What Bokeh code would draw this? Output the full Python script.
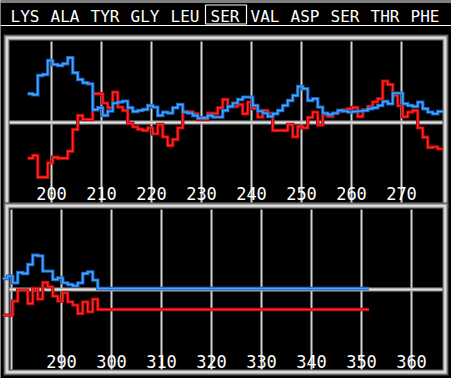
from bokeh.plotting import figure
from bokeh.models import Range1d
from bokeh.core.properties import value
from bokeh.embed import file_html
from bokeh.resources import INLINE

# ---------------- data ----------------
header_labels = ["LYS", "ALA", "TYR", "GLY", "LEU", "SER", "VAL", "ASP", "SER", "THR", "PHE"]
header_highlight = 5

top_start = 195
top_end_edge = 278.3
blue_top = [1.44, 1.39, 2.35, 2.40, 3.10, 2.90, 2.85, 2.94, 3.24, 2.49,
            2.15, 1.99, 1.93, 0.64, 0.74, 0.35, 0.57, 0.97, 1.02, 1.07,
            0.74, 0.55, 0.60, 0.65, 0.85, 0.77, 0.35, 0.52, 0.47, 0.74,
            0.90, 0.52, 0.47, 0.35, 0.22, 0.24, 0.35, 0.27, 0.27, 0.60,
            0.80, 0.97, 1.15, 1.27, 1.27, 0.85, 0.57, 0.47, 0.30, 0.44,
            0.60, 0.85, 1.10, 1.35, 1.80, 1.69, 1.10, 1.19, 0.77, 0.47,
            0.40, 0.47, 0.60, 0.57, 0.52, 0.55, 0.57, 0.60, 0.69, 0.74,
            0.85, 1.05, 0.94, 1.47, 1.47, 0.94, 0.85, 0.80, 1.02, 0.69,
            0.52, 0.44, 0.55]
red_top = [-1.79, -1.65, -2.74, -2.74, -2.02, -1.74, -1.79, -1.79, -1.44, -0.35,
           0.35, 0.15, 0.15, 1.44, 1.44, 0.97, 0.74, 1.52, 0.77, 0.60,
           -0.05, -0.22, -0.34, -0.40, -0.27, -0.57, -0.10, -0.72, -1.15, -0.85,
           -0.27, 0.55, 0.54, 0.44, 0.15, 0.15, 0.47, 0.45, 0.74, 1.15,
           0.80, 0.80, 0.90, 0.44, 1.02, 0.70, 0.27, 0.60, 0.47, -0.40,
           -0.40, -0.40, -0.10, -0.72, -0.20, -0.27, 0.25, 0.52, -0.13, 0.38,
           0.30, 0.45, 0.55, 0.64, 0.69, 0.75, 0.30, 0.64, 0.80, 1.03,
           1.19, 2.07, 1.90, 1.35, 0.83, 0.29, 0.52, 0.60, -0.27, -0.74,
           -1.25, -1.22, -1.32]

bottom_start = 278
bottom_end_edge = 351.5
blue_bottom = [0.55, 0.67, 0.33, 0.85, 0.80, 1.25, 1.72, 1.68, 0.92, 0.92,
               0.50, 0.58, 0.33, 0.25, 0.18, 0.33, 0.80, 0.88, 0.47, 0.05]
red_bottom = [-1.28, -1.28, -0.58, -0.03, -0.03, -0.70, 0.05, -0.48, 0.35, 0.13,
              -0.33, -0.58, -0.17, -0.62, -0.78, -1.20, -0.62, -1.12, -0.48, -1.00]

grid_top = [200, 210, 220, 230, 240, 250, 260, 270]
labels_top = [200, 210, 220, 230, 240, 250, 260, 270]
grid_bottom = [280, 290, 300, 310, 320, 330, 340, 350, 360]
labels_bottom = [290, 300, 310, 320, 330, 340, 350, 360]

# ---------------- geometry (pixels) ----------------
W, H = 451, 378
PX_RES = 5.0      # pixels per residue
PX_UNIT = 20.0    # pixels per hydropathy unit
STEP_SHIFT = 0.25

p1_outer = (3, 34, 448, 208)
p1_inner = (9, 40, 442, 202)
p1_zero = 122
p1_ref = (200, 51)
p1_label_y = 193

p2_outer = (3, 202, 448, 375)
p2_inner = (9, 208, 442, 369)
p2_zero = 289
p2_ref = (290, 61)
p2_label_y = 360.5

def res_range(ref):
    r0, x0 = ref
    return Range1d(r0 - x0 / PX_RES, r0 + (W - x0) / PX_RES)

def hyd_range(zero):
    return Range1d((zero - H) / PX_UNIT, zero / PX_UNIT)

p = figure(width=W, height=H, output_backend="svg", toolbar_location=None,
           x_range=Range1d(0, W), y_range=Range1d(H, 0),
           x_axis_location=None, y_axis_location=None,
           min_border=0, margin=(0, 0, 0, 0))
p.extra_x_ranges = {"res1": res_range(p1_ref), "res2": res_range(p2_ref)}
p.extra_y_ranges = {"hyd1": hyd_range(p1_zero), "hyd2": hyd_range(p2_zero)}
p.grid.visible = False
p.outline_line_color = None
p.background_fill_color = "black"
p.border_fill_color = "black"

MONO = value("DejaVu Sans Mono")

# ---------------- header ----------------
p.segment(x0=[0, 0], x1=[W, W], y0=[1.5, 25], y1=[1.5, 25], line_color="white", line_width=1)
hx = [24.5 + 40 * i for i in range(len(header_labels))]
p.text(x=hx, y=[15.5] * len(hx), text=header_labels, text_font=MONO, text_font_size="16px",
       text_color="white", text_align="center", text_baseline="middle")
bx = hx[header_highlight]
p.quad(left=[bx - 19.5], right=[bx + 21.5], top=[4.5], bottom=[23.5],
       fill_color=None, line_color="white", line_width=1.2)

# ---------------- panel frames ----------------
bevel = ["#4a4a4a", "#8c8c8c", "#c8c8c8", "#f2f2f2", "#b4b4b4", "#6e6e6e"]
for outer in (p1_outer, p2_outer):
    l, t, r, b = outer
    for i, c in enumerate(bevel):
        p.quad(left=[l + i], right=[r - i], top=[t + i], bottom=[b - i],
               fill_color=c, line_color=None)
    p.quad(left=[l + 6], right=[r - 6], top=[t + 6], bottom=[b - 6],
           fill_color="black", line_color=None)

# ---------------- grid, zero lines, labels ----------------
def panel_decor(ticks, inner, xr, yr):
    l, t, r, b = inner
    n = len(ticks)
    p.segment(x0=ticks, x1=ticks, y0=[t + 1] * n, y1=[b] * n, x_range_name=xr,
              line_color="#d4d4d4", line_width=2)
    p.segment(x0=[l], x1=[r], y0=[0], y1=[0], y_range_name=yr,
              line_color="#9c9c9c", line_width=4)
    p.segment(x0=[l], x1=[r], y0=[0], y1=[0], y_range_name=yr,
              line_color="#e6e6e6", line_width=1.5)

def panel_labels(ticks, xr, label_y):
    p.text(x=ticks, y=[label_y] * len(ticks), text=[str(t) for t in ticks], x_range_name=xr,
           text_font=MONO, text_font_size="17px", text_color="white",
           text_align="center", text_baseline="middle")

panel_decor(grid_top, p1_inner, "res1", "hyd1")
panel_decor(grid_bottom, p2_inner, "res2", "hyd2")

# ---------------- profiles ----------------
def profile(start, end_edge, vals, xr, yr, dark, bright):
    xs = [start + i + STEP_SHIFT for i in range(len(vals))] + [end_edge]
    ys = list(vals) + [vals[-1]]
    p.step(x=xs, y=ys, mode="after", x_range_name=xr, y_range_name=yr,
           line_color=dark, line_width=3.4, line_join="miter")
    p.step(x=xs, y=ys, mode="after", x_range_name=xr, y_range_name=yr,
           line_color=bright, line_width=1.4, line_join="miter")

RED_D, RED_B = "#b80000", "#ff2a2a"
BLUE_D, BLUE_B = "#1462c4", "#46a8ff"

profile(top_start, top_end_edge, red_top, "res1", "hyd1", RED_D, RED_B)
profile(top_start, top_end_edge, blue_top, "res1", "hyd1", BLUE_D, BLUE_B)
profile(bottom_start, bottom_end_edge, red_bottom, "res2", "hyd2", RED_D, RED_B)
profile(bottom_start, bottom_end_edge, blue_bottom, "res2", "hyd2", BLUE_D, BLUE_B)

panel_labels(labels_top, "res1", p1_label_y)
panel_labels(labels_bottom, "res2", p2_label_y)

open("out.html", "w").write(file_html(p, INLINE))
